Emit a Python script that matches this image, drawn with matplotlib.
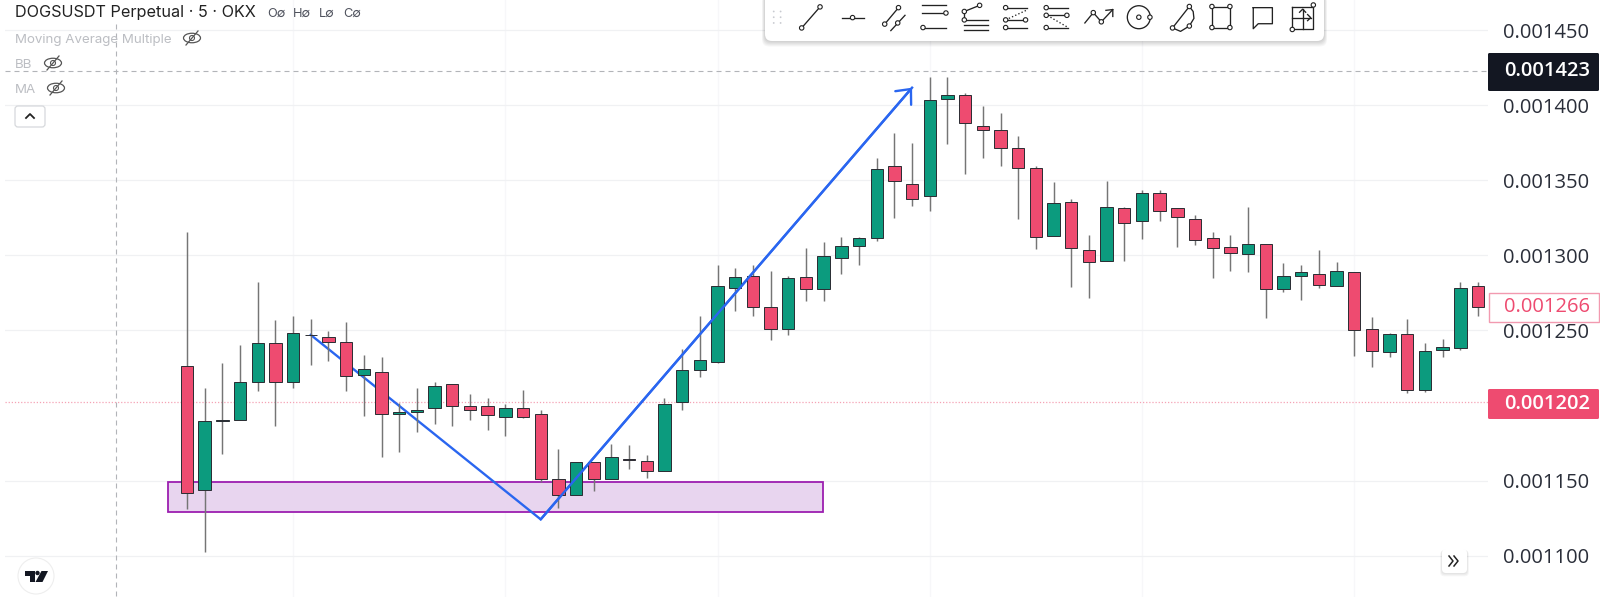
import matplotlib
matplotlib.use("Agg")
import matplotlib.pyplot as plt
from matplotlib.patches import Circle, Ellipse, FancyBboxPatch, Polygon, Rectangle

W, H = 1600, 602

# Prices in millionths
opens = [1226.5, 1143.7, 1189.9, 1190.3, 1215.6, 1241.4, 1215.6, 1246.7, 1245.4, 1242.5,
         1220.1, 1222.3, 1194.6, 1195.5, 1198.3, 1214.3, 1199.4, 1199.4, 1192.6, 1198.1,
         1194.3, 1151.3, 1140.2, 1162.6, 1151.3, 1164.4, 1163.2, 1156.4, 1202.3, 1223.6,
         1229.2, 1278.2, 1286.2, 1265.6, 1250.7, 1285.7, 1277.8, 1298.4, 1306.4, 1311.5,
         1359.2, 1347.2, 1339.2, 1403.8, 1406.5, 1386.3, 1383.4, 1371.2, 1358.1, 1313.0,
         1335.3, 1303.5, 1296.4, 1331.7, 1322.6, 1341.5, 1331.7, 1324.2, 1311.5, 1305.3,
         1300.6, 1307.5, 1277.8, 1286.4, 1287.3, 1279.3, 1288.7, 1250.7, 1235.6, 1247.4,
         1210.3, 1237.2, 1238.5, 1279.3]
highs = [1315.7, 1211.4, 1228.1, 1240.3, 1282.0, 1256.7, 1259.4, 1257.6, 1249.4, 1255.4,
         1233.4, 1232.3, 1201.9, 1211.4, 1215.4, 1214.3, 1207.7, 1204.8, 1201.0, 1210.5,
         1197.2, 1171.0, 1162.6, 1162.6, 1174.3, 1173.7, 1166.8, 1204.7, 1237.4, 1259.3,
         1293.3, 1291.5, 1293.3, 1289.3, 1286.2, 1304.8, 1308.6, 1312.2, 1312.0, 1364.5,
         1381.4, 1374.5, 1418.5, 1418.5, 1407.8, 1399.6, 1394.7, 1379.4, 1359.5, 1348.6,
         1337.5, 1313.5, 1349.7, 1332.4, 1343.5, 1343.5, 1331.7, 1326.6, 1315.7, 1313.5,
         1332.4, 1307.5, 1294.7, 1293.3, 1303.7, 1295.5, 1288.7, 1258.9, 1248.5, 1257.6,
         1241.6, 1244.3, 1282.0, 1282.0]
lows = [1130.9, 1102.2, 1167.7, 1190.3, 1209.7, 1186.6, 1211.9, 1227.0, 1229.8, 1209.7,
        1193.2, 1165.9, 1168.8, 1182.1, 1187.7, 1186.6, 1190.6, 1183.7, 1179.9, 1191.7,
        1148.8, 1132.0, 1140.2, 1143.0, 1151.3, 1158.0, 1151.7, 1156.4, 1197.2, 1219.0,
        1228.0, 1263.1, 1259.8, 1243.8, 1247.1, 1269.8, 1269.8, 1287.7, 1293.7, 1309.3,
        1324.6, 1332.8, 1329.7, 1374.3, 1354.1, 1365.0, 1359.6, 1324.1, 1304.0, 1312.6,
        1278.7, 1271.8, 1296.4, 1296.0, 1310.9, 1323.0, 1305.8, 1307.0, 1285.1, 1289.8,
        1289.1, 1258.0, 1275.8, 1270.0, 1278.2, 1279.3, 1232.7, 1225.9, 1232.0, 1208.1,
        1209.2, 1232.5, 1236.7, 1259.8]
closes = [1141.5, 1189.7, 1190.1, 1215.4, 1241.4, 1215.6, 1248.3, 1247.2, 1242.5, 1219.9,
          1224.1, 1194.6, 1195.5, 1197.0, 1212.8, 1199.4, 1197.2, 1193.9, 1198.1, 1192.6,
          1151.3, 1140.2, 1162.6, 1151.3, 1165.5, 1163.5, 1156.4, 1201.0, 1223.4, 1230.5,
          1279.3, 1285.7, 1265.6, 1250.7, 1284.6, 1277.8, 1299.5, 1306.4, 1311.5, 1357.7,
          1349.7, 1337.7, 1403.6, 1406.5, 1387.8, 1383.6, 1371.4, 1358.3, 1312.2, 1334.6,
          1304.6, 1295.5, 1332.4, 1321.3, 1341.5, 1329.5, 1325.3, 1310.4, 1304.6, 1301.3,
          1307.5, 1277.8, 1286.2, 1288.7, 1280.4, 1289.3, 1250.5, 1236.3, 1247.4, 1210.3,
          1236.3, 1238.7, 1278.2, 1265.8]

tick_prices = [1100, 1150, 1200, 1250, 1300, 1350, 1400, 1450]
tick_labels = ["0.001100", "0.001150", "", "0.001250", "0.001300", "0.001350", "0.001400", "0.001450"]
grid_bars = [6, 18, 30, 42, 54, 66]

zone_bars = [-1.1, 35.98]
zone_prices = [1128.9, 1148.9]
path_bars = [7, 20, 41]
path_prices = [1247, 1124.2, 1411.6]

cross_price = 1423
last_price = 1202
close_price = 1266

GREEN = "#0c9b7e"
RED = "#ee4b70"
BLUE = "#2a66f0"
INK = "#222222"
CROSS = "#b2b4b8"
TEXT_FONT = ["Inter", "DejaVu Sans"]
PRICE_FONT = ["Open Sans", "DejaVu Sans"]

fig = plt.figure(figsize=(W / 100, H / 100), dpi=100, facecolor="white")

# main chart: px 5..1488 across, px 0..597 down
ax = fig.add_axes([5 / W, 5 / H, 1483 / W, 597 / H])
step = 17.685
ax.set_xlim((5 - 187) / step, (1488 - 187) / step)
ax.set_ylim(1450 - (597 - 30) / 1.502, 1450 + 30 / 1.502)
for s in ax.spines.values():
    s.set_visible(False)
ax.set_xticks(grid_bars)
ax.set_yticks(tick_prices)
ax.set_yticklabels(tick_labels, family=PRICE_FONT, fontsize=14.5, color="#2a2e39", ha="right")
ax.yaxis.tick_right()
ax.tick_params(axis="y", length=0, pad=73)
ax.tick_params(axis="x", length=0, labelbottom=False)
ax.grid(True, axis="y", color="#f0f1f3", linewidth=0.9)
ax.grid(True, axis="x", color="#f7f7f9", linewidth=0.9)
ax.set_axisbelow(True)
# no grid line at 1200 in the picture
ax.get_ygridlines()[2].set_visible(False)

# zone and swing line sit under the candles
ax.add_patch(Rectangle((zone_bars[0], zone_prices[0]), zone_bars[1] - zone_bars[0],
                       zone_prices[1] - zone_prices[0], facecolor="#e8d5ef",
                       edgecolor="#9c1fb0", linewidth=1.3, zorder=2))
ax.plot(path_bars, path_prices, color=BLUE, linewidth=1.7, zorder=3, solid_joinstyle="miter")
ax.annotate("", xy=(path_bars[2], path_prices[2]), xytext=(path_bars[1], path_prices[1]),
            arrowprops=dict(arrowstyle="->,head_length=0.85,head_width=0.75", color=BLUE,
                            linewidth=1.7, shrinkA=0, shrinkB=0, mutation_scale=10), zorder=6)

ax.axhline(last_price, color="#f5a3b5", linewidth=0.9, linestyle=(0, (1, 1.5)), zorder=1)
ax.axhline(cross_price, color=CROSS, linewidth=0.8, linestyle=(0, (4.5, 3.6)), zorder=1)

for i, (o, h, l, c) in enumerate(zip(opens, highs, lows, closes)):
    col = GREEN if c >= o else RED
    ax.vlines(i, l, h, color="#757575", linewidth=1.05, zorder=4)
    ax.bar(i, abs(c - o), bottom=min(o, c), width=0.7, color=col,
           edgecolor="#2a2c32", linewidth=0.7, zorder=5)

# overlay in pixels for the platform furniture
ui = fig.add_axes([0, 0, 1, 1], facecolor="none")
ui.set_xlim(0, W)
ui.set_ylim(H, 0)
ui.axis("off")


def shadow_box(x, y, w, h, pad=5, depth=5):
    for k in range(depth, 0, -1):
        ui.add_patch(FancyBboxPatch((x - k * 0.6, y + k * 0.5), w + k * 1.2, h + k * 0.6,
                                    boxstyle=f"round,pad=0,rounding_size={pad}",
                                    facecolor="#000000", edgecolor="none", alpha=0.035))
    ui.add_patch(FancyBboxPatch((x, y), w, h, boxstyle=f"round,pad=0,rounding_size={pad}",
                                facecolor="white", edgecolor="none"))


# crosshair vertical
ui.plot([116, 116], [24, 597], color=CROSS, linewidth=0.8, linestyle=(0, (4.5, 3.6)))

# header text
ui.text(15, 13, "DOGSUSDT Perpetual · 5 · OKX", family=TEXT_FONT, fontsize=11.7, color=INK, va="center")
for label, x in [("O∅", 267), ("H∅", 293), ("L∅", 319), ("C∅", 343)]:
    ui.text(x, 13.5, label, family=TEXT_FONT, fontsize=9.2, color="#50535e", va="center")
for label, y, eye_x in [("Moving Average Multiple", 39, 192), ("BB", 64, 53), ("MA", 89, 56)]:
    ui.text(15, y + 1, label, family=TEXT_FONT, fontsize=9.6, color="#bcbec3", va="center")
    ui.add_patch(Ellipse((eye_x, y - 1), 17, 9.5, fill=False, edgecolor="#555555", linewidth=0.9))
    ui.add_patch(Circle((eye_x, y - 1), 2.5, fill=False, edgecolor="#555555", linewidth=0.8))
    ui.plot([eye_x - 6, eye_x + 6], [y + 6, y - 8], color="#555555", linewidth=0.9)
ui.add_patch(FancyBboxPatch((15, 106), 30, 21, boxstyle="round,pad=0,rounding_size=3",
                            facecolor="white", edgecolor="#d6d8dc", linewidth=0.9))
ui.plot([26, 30, 34], [118, 114, 118], color=INK, linewidth=1.3)

# drawing toolbar, icon coordinates relative to the toolbar crop
shadow_box(765, -8, 559, 49, pad=7)


def tx(v):
    return 750 + v / 2.613


def ty(v):
    return v / 2.613


def seg(points, style="-", lw=0.95, col=INK):
    ui.plot([tx(p[0]) for p in points], [ty(p[1]) for p in points], color=col, linewidth=lw, linestyle=style)


def nodes(points):
    for p in points:
        ui.add_patch(Circle((tx(p[0]), ty(p[1])), 2.2, facecolor="white", edgecolor=INK, linewidth=0.8, zorder=5))


for dx in (62, 80):
    for dy in (30, 45, 60):
        ui.add_patch(Circle((tx(dx), ty(dy)), 0.9, facecolor="#c8cad0", edgecolor="none"))

seg([(135, 73), (183, 18)]); nodes([(135, 73), (183, 18)])
seg([(240, 46), (297, 46)]); nodes([(268, 46)])
seg([(352, 63), (388, 20)]); seg([(368, 80), (405, 40)]); nodes([(352, 63), (388, 20), (386, 60)])
seg([(450, 14), (513, 14)]); seg([(450, 34), (513, 34)]); seg([(452, 72), (513, 72)]); nodes([(512, 34), (452, 72)])
seg([(560, 30), (600, 14)]); seg([(560, 30), (560, 52), (622, 52)]); seg([(560, 66), (622, 66)]); seg([(560, 78), (622, 78)])
nodes([(560, 30), (600, 14), (560, 52)])
seg([(668, 20), (724, 20)]); seg([(668, 52), (720, 52)]); seg([(668, 72), (724, 72)]); seg([(668, 52), (724, 26)], style=":")
nodes([(668, 20), (668, 52), (720, 52), (668, 72)])
seg([(774, 20), (830, 20)]); seg([(774, 40), (828, 40)]); seg([(774, 72), (830, 72)]); seg([(785, 45), (828, 70)], style=":")
nodes([(774, 20), (774, 40), (828, 40), (774, 72)])
seg([(875, 60), (897, 33), (918, 57), (948, 25)]); seg([(930, 27), (948, 25), (948, 43)]); nodes([(897, 33), (918, 57)])
ui.add_patch(Circle((tx(1016), ty(45)), 11.5, fill=False, edgecolor=INK, linewidth=0.95)); nodes([(1016, 45), (1045, 45)])
seg([(1148, 17), (1104, 73)]); seg([(1148, 17), (1158, 30), (1160, 48), (1148, 68)]); seg([(1104, 73), (1125, 82), (1148, 68)]); nodes([(1148, 17), (1104, 73), (1148, 68)])
seg([(1207, 17), (1254, 17), (1254, 72), (1207, 72), (1207, 17)]); nodes([(1207, 17), (1254, 17), (1254, 72), (1207, 72)])
seg([(1315, 20), (1365, 20), (1365, 62), (1328, 62), (1315, 75), (1315, 20)])
seg([(1417, 17), (1472, 17), (1472, 75), (1417, 75), (1417, 17)]); seg([(1417, 46), (1465, 46)]); seg([(1444, 75), (1444, 24)])
seg([(1436, 32), (1444, 24), (1452, 32)]); seg([(1457, 38), (1465, 46), (1457, 54)]); nodes([(1472, 13), (1417, 77)])

# price labels on the scale
ui.add_patch(FancyBboxPatch((1488, 53), 111, 38, boxstyle="round,pad=0,rounding_size=1.5", facecolor="#131722", edgecolor="none"))
ui.text(1590, 71, f"{cross_price / 1e6:.6f}", family=PRICE_FONT, fontsize=14.5, fontweight="semibold", color="white", ha="right", va="center")
ui.add_patch(Rectangle((1488.5, 293), 110, 29, facecolor="white", edgecolor="#f29ab0", linewidth=1))
ui.text(1590, 307, f"{close_price / 1e6:.6f}", family=PRICE_FONT, fontsize=14.5, color=RED, ha="right", va="center")
ui.add_patch(FancyBboxPatch((1488, 389), 111, 30, boxstyle="round,pad=0,rounding_size=1.5", facecolor=RED, edgecolor="none"))
ui.text(1590, 404, f"{last_price / 1e6:.6f}", family=PRICE_FONT, fontsize=14.5, fontweight="semibold", color="white", ha="right", va="center")

# jump-to-latest button
shadow_box(1442, 549, 25, 24, pad=4, depth=3)
ui.plot([1449, 1453, 1449], [556, 561, 566], color=INK, linewidth=1.1)
ui.plot([1454, 1458, 1454], [556, 561, 566], color=INK, linewidth=1.1)

# TV logo
ui.add_patch(Circle((36, 576), 18, facecolor="white", edgecolor="#eeeeee", linewidth=0.8))
ui.add_patch(Polygon([(25, 571), (34.5, 571), (34.5, 582), (30, 582), (30, 575.5), (25, 575.5)], facecolor="#131722", edgecolor="none"))
ui.add_patch(Circle((37.5, 573), 2.2, facecolor="#131722", edgecolor="none"))
ui.add_patch(Polygon([(41.5, 571), (48, 571), (42.5, 582), (35.5, 582)], facecolor="#131722", edgecolor="none"))

fig.savefig("out.png", dpi=100)
